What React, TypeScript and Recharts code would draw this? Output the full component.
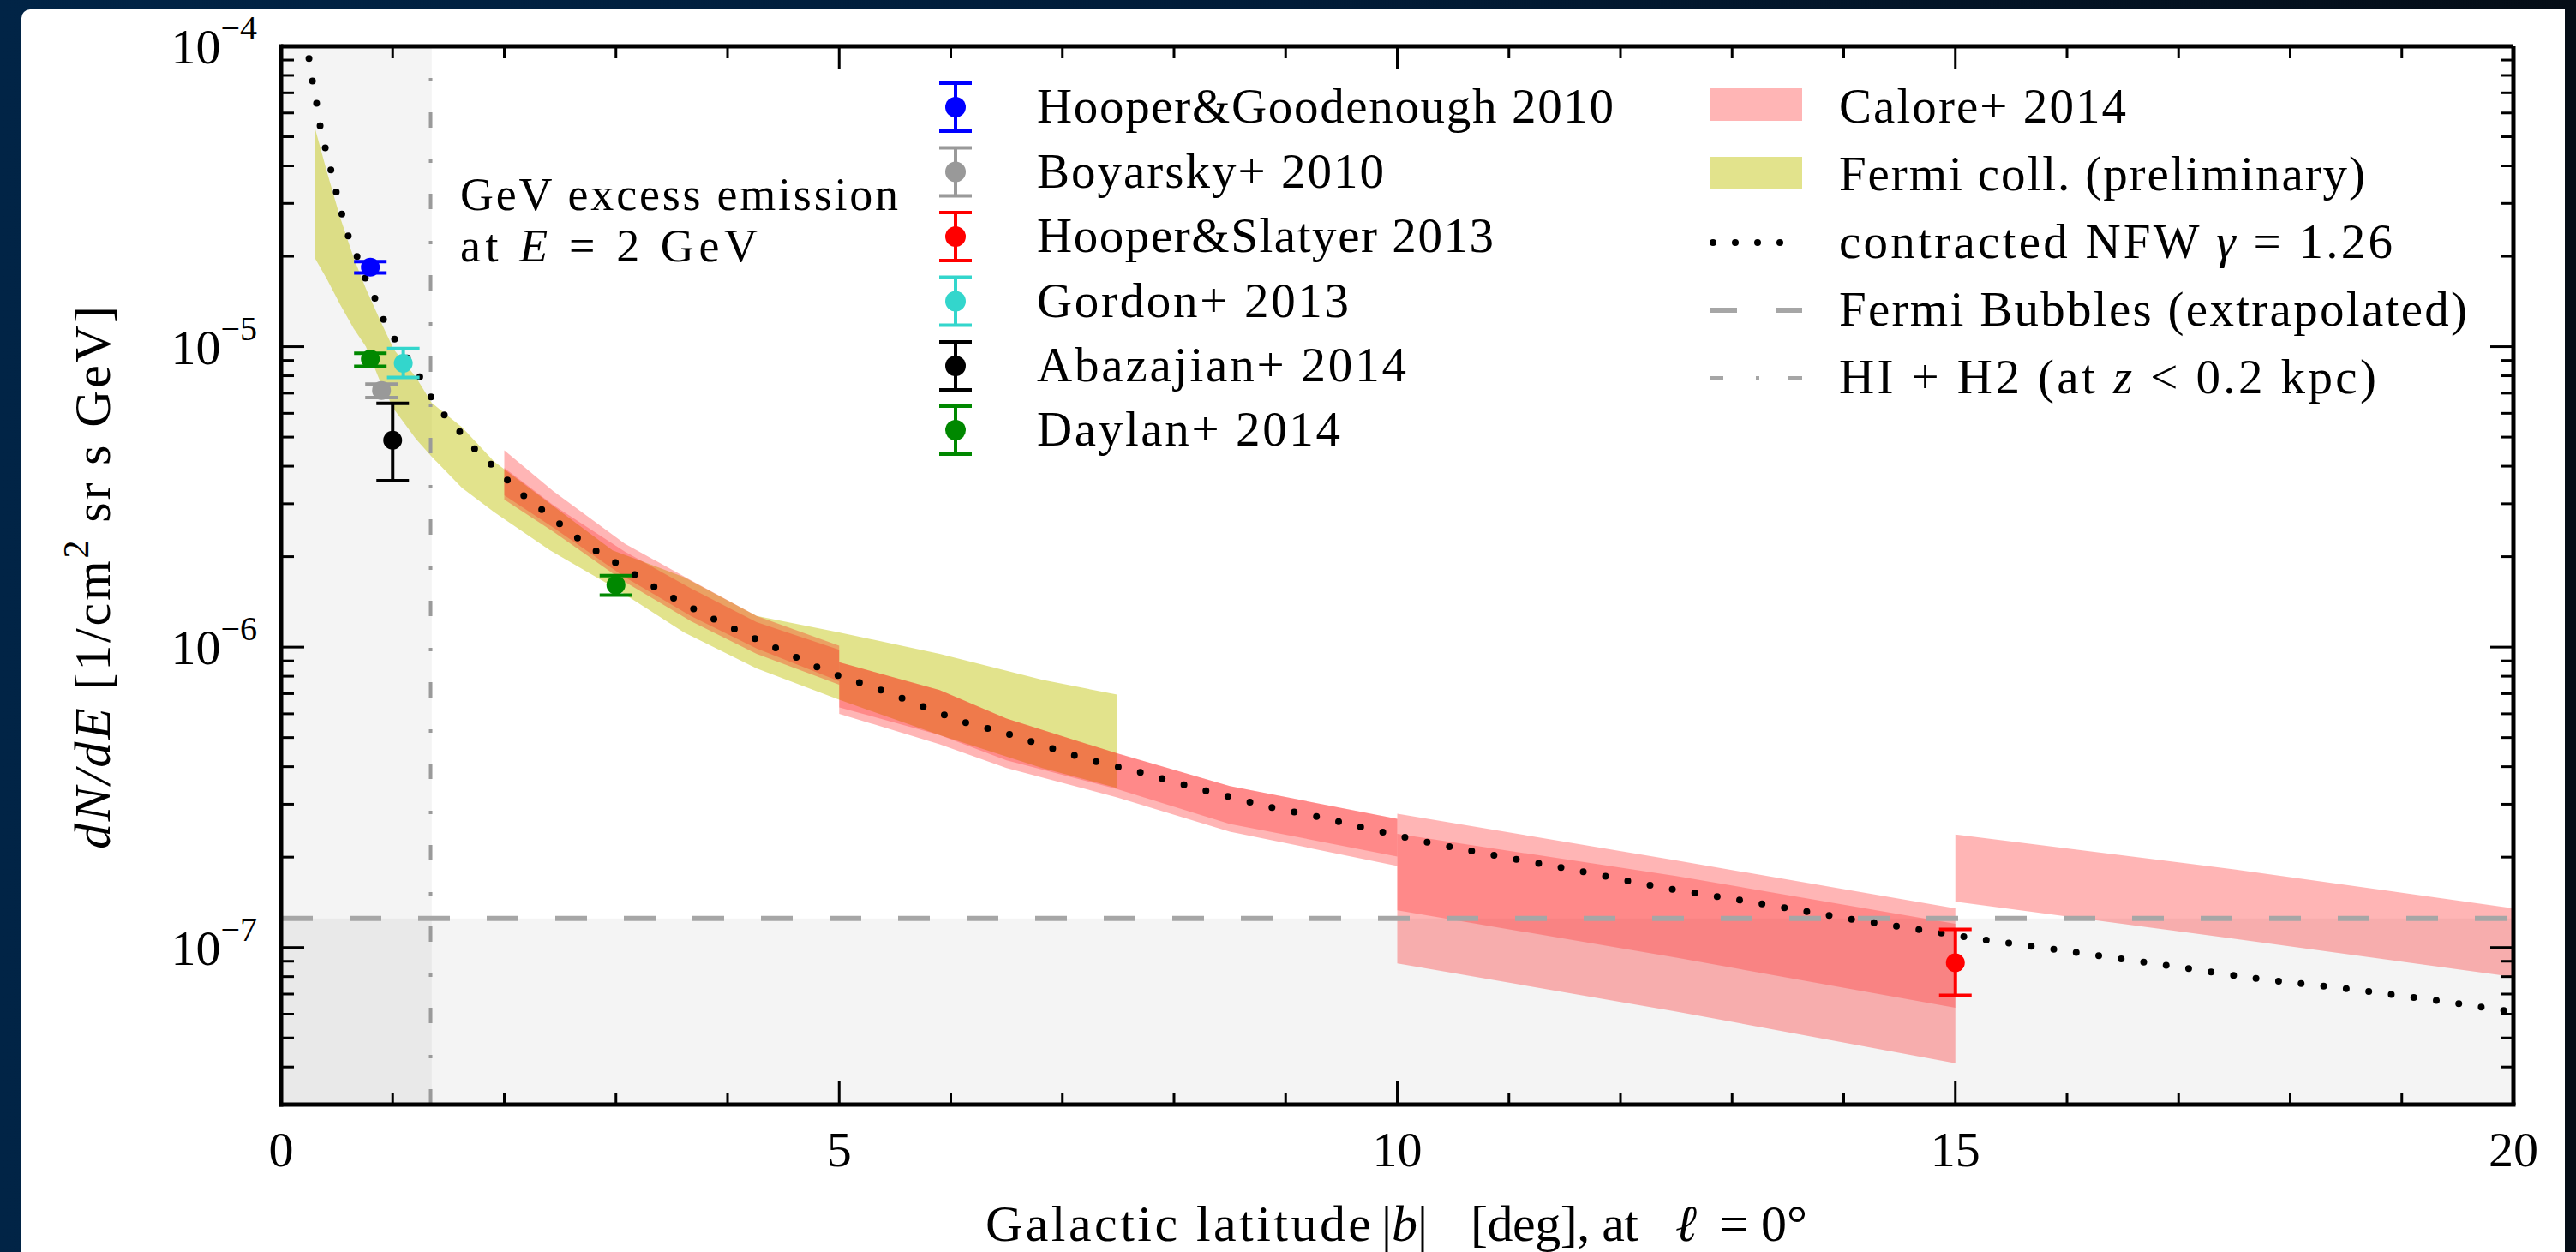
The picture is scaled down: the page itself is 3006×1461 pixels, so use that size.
import React from 'react';
import {
  ComposedChart, XAxis, YAxis, Area, Line, Scatter, ErrorBar,
  ReferenceArea, ReferenceLine, Legend, Label,
} from 'recharts';

const FONT = '"Liberation Serif", "DejaVu Serif", serif';
const FS = 57;

// ---------- axes ----------
const xMajorTicks = [0, 5, 10, 15, 20];
const xMinorTicks = [1, 2, 3, 4, 6, 7, 8, 9, 11, 12, 13, 14, 16, 17, 18, 19];
const yMajorTicks = [1e-7, 1e-6, 1e-5, 1e-4];
const yMinorTicks = [
  4e-8, 5e-8, 6e-8, 7e-8, 8e-8, 9e-8,
  2e-7, 3e-7, 4e-7, 5e-7, 6e-7, 7e-7, 8e-7, 9e-7,
  2e-6, 3e-6, 4e-6, 5e-6, 6e-6, 7e-6, 8e-6, 9e-6,
  2e-5, 3e-5, 4e-5, 5e-5, 6e-5, 7e-5, 8e-5, 9e-5,
];
const xDomain = [0, 20];
const yDomain = [3e-8, 1e-4];

// ---------- contracted NFW gamma = 1.26 ----------
const nfwLat = [0.25, 0.28, 0.32, 0.35, 0.40, 0.45, 0.50, 0.55, 0.61, 0.69, 0.77, 0.86, 0.94, 1.04, 1.27, 1.37, 1.51, 1.65, 1.78, 1.94, 2.08, 2.41, 2.74, 3.08, 3.44, 3.80, 4.17, 4.55, 4.93, 5.32, 5.71, 6.10, 6.50, 6.90, 7.29, 7.69, 8.09, 8.49, 8.89, 9.30, 9.71, 10.11, 10.71, 11.53, 12.35, 13.16, 13.97, 14.79, 15.20, 16.02, 16.85, 17.67, 18.49, 19.32, 20.0];
const nfwFlux = [9.1e-5, 7.7e-5, 6.4e-5, 5.43e-5, 4.53e-5, 3.83e-5, 3.21e-5, 2.72e-5, 2.29e-5, 1.96e-5, 1.64e-5, 1.40e-5, 1.18e-5, 1.03e-5, 7.64e-6, 6.55e-6, 5.67e-6, 4.98e-6, 4.37e-6, 3.89e-6, 3.43e-6, 2.73e-6, 2.19e-6, 1.83e-6, 1.51e-6, 1.28e-6, 1.10e-6, 9.49e-7, 8.2e-7, 7.32e-7, 6.43e-7, 5.66e-7, 5.16e-7, 4.61e-7, 4.17e-7, 3.84e-7, 3.48e-7, 3.18e-7, 2.92e-7, 2.72e-7, 2.50e-7, 2.31e-7, 2.08e-7, 1.83e-7, 1.59e-7, 1.42e-7, 1.26e-7, 1.13e-7, 1.07e-7, 9.7e-8, 8.77e-8, 7.91e-8, 7.3e-8, 6.65e-8, 6.1e-8];

// ---------- Fermi coll. (preliminary) band ----------
const fermiLat = [0.30, 0.41, 0.53, 0.65, 0.76, 0.885, 1.01, 1.21, 1.35, 1.62, 1.91, 2.41, 2.97, 3.61, 4.26, 5.0, 5.9, 6.82, 7.49];
const fermiLow = [1.98e-5, 1.68e-5, 1.38e-5, 1.15e-5, 1.0e-5, 7.7e-6, 6.2e-6, 4.92e-6, 4.3e-6, 3.39e-6, 2.81e-6, 2.1e-6, 1.59e-6, 1.12e-6, 8.49e-7, 6.68e-7, 5.1e-7, 3.96e-7, 3.4e-7];
const fermiHigh = [5.4e-5, 3.83e-5, 2.69e-5, 1.98e-5, 1.56e-5, 1.23e-5, 9.8e-6, 7.9e-6, 6.5e-6, 5.4e-6, 4.14e-6, 3.0e-6, 2.1e-6, 1.71e-6, 1.27e-6, 1.12e-6, 9.5e-7, 7.78e-7, 6.95e-7];

// ---------- Calore+ 2014 bands (outer = total, inner = darker) ----------
const caloreALat = [2.0, 2.44, 3.08, 3.67, 4.26, 5.0];
const caloreAOuterLow = [3.1e-6, 2.42e-6, 1.65e-6, 1.22e-6, 9.5e-7, 7.5e-7];
const caloreAOuterHigh = [4.52e-6, 3.3e-6, 2.21e-6, 1.67e-6, 1.27e-6, 1.01e-6];
const caloreAInnerLow = [3.2e-6, 2.5e-6, 1.71e-6, 1.27e-6, 9.9e-7, 7.7e-7];
const caloreAInnerHigh = [3.95e-6, 2.97e-6, 2.08e-6, 1.57e-6, 1.21e-6, 9.8e-7];

const caloreBLat = [5.0, 5.9, 6.5, 7.49, 8.5, 10.0];
const caloreBOuterLow = [6.0e-7, 4.75e-7, 3.96e-7, 3.16e-7, 2.43e-7, 1.87e-7];
const caloreBOuterHigh = [8.9e-7, 7.2e-7, 5.78e-7, 4.43e-7, 3.45e-7, 2.68e-7];
const caloreBInnerLow = [6.3e-7, 5.1e-7, 4.2e-7, 3.37e-7, 2.58e-7, 2.01e-7];
const caloreBInnerHigh = [8.9e-7, 7.2e-7, 5.78e-7, 4.43e-7, 3.45e-7, 2.68e-7];

const caloreCLat = [10.0, 12.5, 15.0];
const caloreCOuterLow = [8.85e-8, 6.12e-8, 4.12e-8];
const caloreCOuterHigh = [2.79e-7, 1.95e-7, 1.35e-7];
const caloreCInnerLow = [1.33e-7, 9.25e-8, 6.3e-8];
const caloreCInnerHigh = [2.39e-7, 1.73e-7, 1.2e-7];

const caloreDLat = [15.0, 17.5, 20.0];
const caloreDOuterLow = [1.42e-7, 1.07e-7, 7.98e-8];
const caloreDOuterHigh = [2.38e-7, 1.82e-7, 1.35e-7];

// ---------- reference levels ----------
const fermiBubblesLat = [0, 20];
const fermiBubblesFlux = [1.25e-7, 1.25e-7];
const hiH2Lat = 1.34;

// ---------- measurements ----------
const pointNames = ['Hooper&Goodenough 2010', 'Boyarsky+ 2010', 'Hooper&Slatyer 2013', 'Gordon+ 2013', 'Abazajian+ 2014', 'Daylan+ 2014'];
const pointColors = ['#0000ff', '#999999', '#ff0000', '#33d6cc', '#000000', '#008800'];
const pointLat = [[0.80], [0.90], [15.0], [1.095], [1.0], [0.80, 3.0]];
const pointFlux = [[1.84e-5], [7.15e-6], [8.9e-8], [8.8e-6], [4.88e-6], [9.1e-6, 1.61e-6]];
const pointLow = [[1.76e-5], [6.77e-6], [6.93e-8], [7.9e-6], [3.58e-6], [8.6e-6, 1.49e-6]];
const pointHigh = [[1.92e-5], [7.5e-6], [1.15e-7], [9.86e-6], [6.47e-6], [9.5e-6, 1.73e-6]];

// ---------- colors ----------
const YELLOW = '#bec000';
const YELLOW_OP = 0.45;
const RED = '#ff0000';
const OUTER_OP = 0.29;
const INNER_OP = 0.24;

// ---------- data tables ----------
const band = (xs: number[], lo: number[], hi: number[]) => xs.map((x, i) => ({ x, band: [lo[i], hi[i]] }));
const nfwData = nfwLat.map((x, i) => ({ x, y: nfwFlux[i] }));
const bubblesData = fermiBubblesLat.map((x, i) => ({ x, y: fermiBubblesFlux[i] }));
const fermiData = band(fermiLat, fermiLow, fermiHigh);
const caloreBands = [
  { outer: band(caloreALat, caloreAOuterLow, caloreAOuterHigh), inner: band(caloreALat, caloreAInnerLow, caloreAInnerHigh) },
  { outer: band(caloreBLat, caloreBOuterLow, caloreBOuterHigh), inner: band(caloreBLat, caloreBInnerLow, caloreBInnerHigh) },
  { outer: band(caloreCLat, caloreCOuterLow, caloreCOuterHigh), inner: band(caloreCLat, caloreCInnerLow, caloreCInnerHigh) },
  { outer: band(caloreDLat, caloreDOuterLow, caloreDOuterHigh), inner: null },
];
const pointSeries = pointNames.map((name, k) => ({
  name,
  color: pointColors[k],
  data: pointLat[k].map((x, i) => ({
    x,
    y: pointFlux[k][i],
    err: [pointFlux[k][i] - pointLow[k][i], pointHigh[k][i] - pointFlux[k][i]],
  })),
}));

// ---------- layout ----------
const W = 3006;
const H = 1461;
const PLOT_LEFT = 328;
const PLOT_TOP = 54;
const PLOT_W = 2605;
const PLOT_H = 1235;

// text widths measured on the reference (px)
const col1TextWidths = [673, 405, 533, 364, 431, 354];
const col2TextWidths = [335, 614, 646, 733, 627];

const isMajorX = (v: number) => xMajorTicks.includes(v);
const isMajorY = (v: number) => yMajorTicks.some((m) => Math.abs(m - v) / m < 1e-6);

function XTick(props: any) {
  const { x, y, payload } = props;
  const v = payload.value;
  const major = isMajorX(v);
  const len = major ? 27 : 14;
  return (
    <g>
      <line x1={x} y1={y} x2={x} y2={y - len} stroke="#000" strokeWidth={3} />
      <line x1={x} y1={y - PLOT_H} x2={x} y2={y - PLOT_H + len} stroke="#000" strokeWidth={3} />
      {major && (
        <text x={x} y={y + 72} textAnchor="middle" fontSize={58} fontFamily={FONT} fill="#000">
          {v}
        </text>
      )}
    </g>
  );
}

function YTick(props: any) {
  const { x, y, payload } = props;
  const v = payload.value;
  const major = isMajorY(v);
  const len = major ? 27 : 15;
  const e = Math.round(Math.log10(v));
  return (
    <g>
      <line x1={x} y1={y} x2={x + len} y2={y} stroke="#000" strokeWidth={3} />
      <line x1={x + PLOT_W} y1={y} x2={x + PLOT_W - len} y2={y} stroke="#000" strokeWidth={3} />
      {major && (
        <text x={x - 28} y={y + 20} textAnchor="end" fontSize={58} fontFamily={FONT} fill="#000">
          10
          <tspan dy={-28} fontSize={40}>{'\u2212' + String(-e)}</tspan>
        </text>
      )}
    </g>
  );
}

function YLabel() {
  return (
    <text
      transform="translate(128,674) rotate(-90)" textAnchor="middle" fontSize={60} fontFamily={FONT} fill="#000"
      textLength={634} lengthAdjust="spacing"
    >
      <tspan fontStyle="italic">dN/dE</tspan>
      <tspan> [1/cm</tspan>
      <tspan dy={-25} fontSize={42}>2</tspan>
      <tspan dy={25}> sr s GeV]</tspan>
    </text>
  );
}

function XLabel() {
  const base = 1448;
  return (
    <g fontSize={60} fontFamily={FONT} fill="#000">
      <text x={1150} y={base} textLength={450} lengthAdjust="spacing">Galactic latitude</text>
      <text x={1612} y={base}>|<tspan fontStyle="italic">b</tspan>|</text>
      <text x={1716} y={base} textLength={196} lengthAdjust="spacing">[deg], at</text>
      <text x={1955} y={base}><tspan fontStyle="italic">ℓ</tspan></text>
      <text x={2109} y={base} textAnchor="end">= 0°</text>
    </g>
  );
}

const col1Baselines = [143, 218.5, 294, 369.5, 445, 520];
const col2Baselines = [143, 222, 301, 380, 459];

function LegendText({ x, y, w, children }: any) {
  return (
    <text x={x} y={y} fontSize={FS} fontFamily={FONT} fill="#000" textLength={w} lengthAdjust="spacing">
      {children}
    </text>
  );
}

function LegendContent() {
  const ix = 1115;
  const px0 = 1995;
  const px1 = 2103;
  return (
    <svg width={W} height={620} style={{ position: 'absolute', left: 0, top: 0, overflow: 'visible' }}>
      {/* annotation */}
      <text x={537} y={245} fontSize={54} fontFamily={FONT} fill="#000" textLength={511} lengthAdjust="spacing">GeV excess emission</text>
      <text x={537} y={305} fontSize={54} fontFamily={FONT} fill="#000" textLength={347} lengthAdjust="spacing">
        at <tspan fontStyle="italic">E</tspan> = 2 GeV
      </text>
      {/* column 1: measurements */}
      {pointSeries.map((s, i) => {
        const cy = col1Baselines[i] - 18;
        return (
          <g key={s.name}>
            <line x1={ix} y1={cy - 28} x2={ix} y2={cy + 28} stroke={s.color} strokeWidth={4} />
            <line x1={ix - 19} y1={cy - 28} x2={ix + 19} y2={cy - 28} stroke={s.color} strokeWidth={4} />
            <line x1={ix - 19} y1={cy + 28} x2={ix + 19} y2={cy + 28} stroke={s.color} strokeWidth={4} />
            <circle cx={ix} cy={cy} r={12} fill={s.color} />
            <LegendText x={1210} y={col1Baselines[i]} w={col1TextWidths[i]}>{s.name}</LegendText>
          </g>
        );
      })}
      {/* column 2 */}
      <rect x={px0} y={col2Baselines[0] - 40} width={px1 - px0} height={38} fill={RED} fillOpacity={OUTER_OP} />
      <LegendText x={2146} y={col2Baselines[0]} w={col2TextWidths[0]}>Calore+ 2014</LegendText>
      <rect x={px0} y={col2Baselines[1] - 39} width={px1 - px0} height={38} fill={YELLOW} fillOpacity={YELLOW_OP} />
      <LegendText x={2146} y={col2Baselines[1]} w={col2TextWidths[1]}>Fermi coll. (preliminary)</LegendText>
      <line x1={px0 + 4} y1={col2Baselines[2] - 18} x2={px1} y2={col2Baselines[2] - 18} stroke="#000" strokeWidth={8} strokeDasharray="0 26" strokeLinecap="round" />
      <LegendText x={2146} y={col2Baselines[2]} w={col2TextWidths[2]}>
        contracted NFW <tspan fontStyle="italic">γ</tspan> = 1.26
      </LegendText>
      <line x1={px0} y1={col2Baselines[3] - 18} x2={px1} y2={col2Baselines[3] - 18} stroke="#a6a6a6" strokeWidth={6} strokeDasharray="32 45" />
      <LegendText x={2146} y={col2Baselines[3]} w={col2TextWidths[3]}>Fermi Bubbles (extrapolated)</LegendText>
      <line x1={px0} y1={col2Baselines[4] - 18} x2={px1} y2={col2Baselines[4] - 18} stroke="#a6a6a6" strokeWidth={4} strokeDasharray="16 38 4 34" />
      <LegendText x={2146} y={col2Baselines[4]} w={col2TextWidths[4]}>
        HI + H2 (at <tspan fontStyle="italic">z</tspan> &lt; 0.2 kpc)
      </LegendText>
    </svg>
  );
}

const allXTicks = [...xMajorTicks, ...xMinorTicks].sort((a, b) => a - b);
const allYTicks = [...yMinorTicks, ...yMajorTicks].sort((a, b) => a - b);

export default function App() {
  return (
    <div
      style={{
        position: 'fixed', left: 0, top: 0, width: W, height: H, overflow: 'hidden',
        background: 'linear-gradient(90deg, #012446 0%, #011c38 50%, #050d16 100%)',
      }}
    >
      <div style={{ position: 'absolute', left: 25, top: 11, width: 2968, height: H - 11, background: '#fff', borderTopLeftRadius: 10 }} />
      <div style={{ position: 'absolute', left: 0, top: 0 }}>
        <ComposedChart width={W} height={H} margin={{ top: PLOT_TOP, right: W - PLOT_LEFT - PLOT_W, bottom: 0, left: 0 }}>
          <XAxis
            dataKey="x" type="number" domain={xDomain} allowDataOverflow ticks={allXTicks} interval={0}
            tick={<XTick />} tickLine={false} tickSize={0} tickMargin={0} height={H - PLOT_TOP - PLOT_H}
            axisLine={{ stroke: '#000', strokeWidth: 5, strokeLinecap: 'square' }}
          >
            <Label content={<XLabel />} />
          </XAxis>
          <YAxis
            dataKey="y" type="number" scale="log" domain={yDomain} allowDataOverflow ticks={allYTicks} interval={0}
            tick={<YTick />} tickLine={false} tickSize={0} tickMargin={0} width={PLOT_LEFT}
            axisLine={{ stroke: '#000', strokeWidth: 5, strokeLinecap: 'square' }}
          >
            <Label content={<YLabel />} />
          </YAxis>

          <ReferenceArea x1={0} x2={1.35} y1={yDomain[0]} y2={yDomain[1]} fill="#000" fillOpacity={0.045} stroke="none" />
          <ReferenceArea x1={0} x2={20} y1={yDomain[0]} y2={fermiBubblesFlux[0]} fill="#000" fillOpacity={0.045} stroke="none" />
          <ReferenceLine x={hiH2Lat} stroke="#9a9a9a" strokeWidth={4} strokeDasharray="18 36 4 37" />

          <Line data={bubblesData} dataKey="y" type="linear" stroke="#a6a6a6" strokeWidth={6} strokeDasharray="37 43" dot={false} activeDot={false} isAnimationActive={false} />

          <Area data={fermiData} dataKey="band" type="linear" stroke="none" fill={YELLOW} fillOpacity={YELLOW_OP} isAnimationActive={false} activeDot={false} />
          {caloreBands.map((b, i) => (
            <Area key={'o' + i} data={b.outer} dataKey="band" type="linear" stroke="none" fill={RED} fillOpacity={OUTER_OP} isAnimationActive={false} activeDot={false} />
          ))}
          {caloreBands.filter((b) => b.inner).map((b, i) => (
            <Area key={'i' + i} data={b.inner as any} dataKey="band" type="linear" stroke="none" fill={RED} fillOpacity={INNER_OP} isAnimationActive={false} activeDot={false} />
          ))}

          <Line data={nfwData} dataKey="y" type="monotone" stroke="#000" strokeWidth={8} strokeDasharray="0 26.5" strokeLinecap="round" dot={false} activeDot={false} isAnimationActive={false} />

          {pointSeries.map((s) => (
            <Scatter
              key={s.name} data={s.data} dataKey="y" fill={s.color} isAnimationActive={false}
              shape={(p: any) => <circle cx={p.cx} cy={p.cy} r={11} fill={s.color} />}
            >
              <ErrorBar dataKey="err" direction="y" width={19} strokeWidth={4} stroke={s.color} />
            </Scatter>
          ))}

          <ReferenceLine y={yDomain[1]} stroke="#000" strokeWidth={5} />
          <ReferenceLine x={xDomain[1]} stroke="#000" strokeWidth={5} />

          <Legend
            layout="horizontal" verticalAlign="middle" align="center"
            wrapperStyle={{ position: 'absolute', left: 0, top: 0, width: W, height: 620, pointerEvents: 'none' }}
            content={<LegendContent />}
          />
        </ComposedChart>
      </div>
    </div>
  );
}
